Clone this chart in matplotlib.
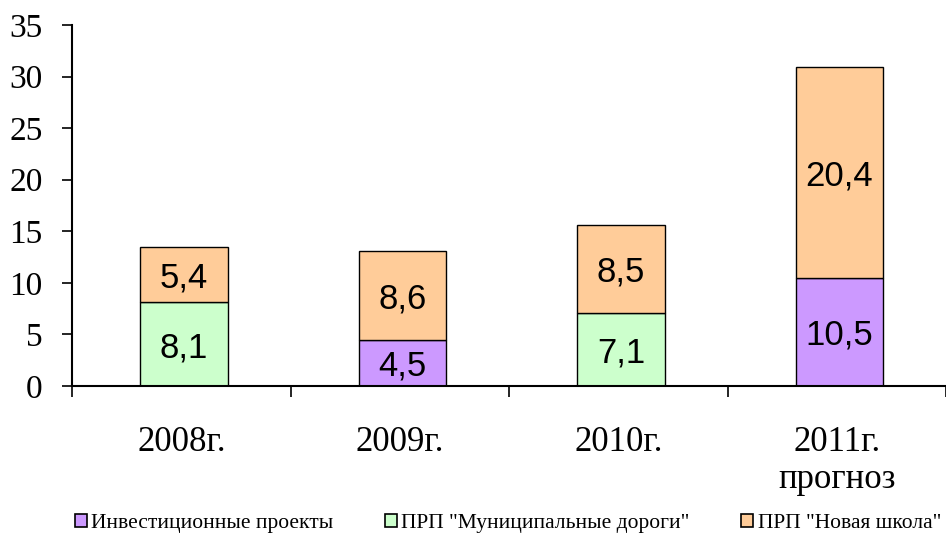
import matplotlib.pyplot as plt
from matplotlib.patches import Patch

# Data (млрд руб.)
years = ["2008г.", "2009г.", "2010г.", "2011г.\nпрогноз"]
invest = [0, 4.5, 0, 10.5]
roads = [8.1, 0, 7.1, 0]
school = [5.4, 8.6, 8.5, 20.4]
series_names = ['Инвестиционные проекты', 'ПРП "Муниципальные дороги"', 'ПРП "Новая школа"']
y_ticks = [0, 5, 10, 15, 20, 25, 30, 35]

colors = ["#CC99FF", "#CCFFCC", "#FFCC99"]

fig = plt.figure(figsize=(9.46, 5.35), dpi=100)
ax = fig.add_axes([0.0761, 0.2785, 0.924, 0.6748])

x = range(len(years))
width = 0.4
bottom = [0.0] * len(years)
for vals, col in zip([invest, roads, school], colors):
    for i, v in enumerate(vals):
        if v == 0:
            continue
        ax.bar(i + 0.012, v, width, bottom=bottom[i], color=col, edgecolor="black", linewidth=1)
        ax.text(i + 0.012, bottom[i] + v / 2, f"{v:.1f}".replace(".", ","),
                ha="center", va="center_baseline", fontsize=25, family="Liberation Sans")
        bottom[i] += v

ax.set_xlim(-0.5, 3.5)
ax.set_ylim(0, 35)
ax.set_yticks(y_ticks)
ax.set_yticklabels([str(t) for t in y_ticks], family="Liberation Serif", fontsize=24)
ax.tick_params(axis="y", length=7, width=1.2, pad=14)

# category labels at centres, tick marks between categories
ax.set_xticks(list(x))
ax.set_xticklabels(years, family="Liberation Serif", fontsize=25, va="top",
                   linespacing=1.15)
ax.tick_params(axis="x", which="major", length=0, pad=29)
ax.set_xticks([-0.5, 0.5, 1.5, 2.5, 3.5], minor=True)
ax.tick_params(axis="x", which="minor", length=8, width=1.2)

for side in ["top", "right"]:
    ax.spines[side].set_visible(False)
ax.spines["left"].set_linewidth(1.5)
ax.spines["bottom"].set_linewidth(1.5)

handles = [Patch(facecolor=c, edgecolor="black", linewidth=1.2) for c in colors]
fig.legend(handles, series_names, loc="lower center", bbox_to_anchor=(0.537, -0.033),
           ncol=3, frameon=False, handlelength=0.55, handleheight=0.55, handletextpad=0.2,
           columnspacing=2.4, prop={"family": "Liberation Serif", "size": 15.5})

fig.savefig("out.png", dpi=100)
